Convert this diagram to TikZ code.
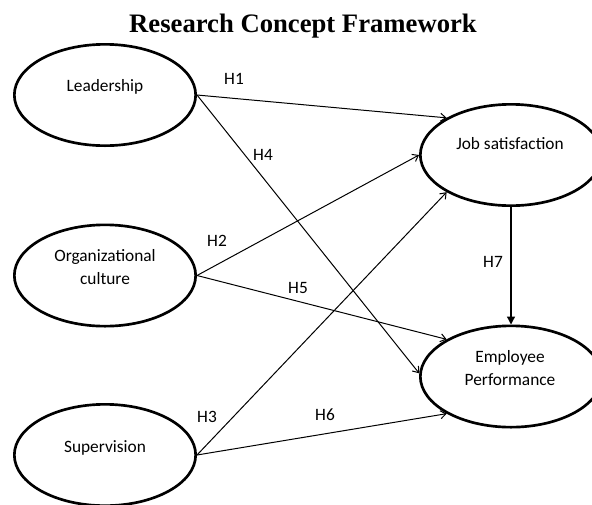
\documentclass[tikz,border=0pt]{standalone}
\usepackage{fontspec}
\setmainfont{Carlito}
\newfontfamily\titlefont{Liberation Serif}
\usetikzlibrary{shapes.geometric,arrows.meta}

\begin{document}
\begin{tikzpicture}[x=0.75pt,y=-0.75pt,line join=round,>={Straight Barb[length=4pt,width=6pt]}]
	\tikzset{oval/.style={ellipse,draw,line width=2pt,minimum width=136pt,minimum height=76pt,inner sep=0pt},
		txt/.style={font=\fontsize{13}{17}\selectfont,align=center,inner sep=0pt,anchor=base},
		link/.style={->,line width=0.75pt}}
	\useasboundingbox (0,0) rectangle (592,504);
	\node[anchor=base,inner sep=0pt,font=\titlefont\fontsize{20}{24}\selectfont\bfseries] (title) at (303,32) {Research Concept Framework};
	% constructs
	\node[oval] (lead) at (105,95) {};
	\node[oval] (orgc) at (105,275.5) {};
	\node[oval] (superv) at (105,455) {};
	\node[oval] (jobsat) at (511,155) {};
	\node[oval] (empperf) at (511,376.5) {};
	\node[txt] (leadtxt) at (105,91) {Leadership};
	\node[txt] (orgctxt) at (105,284) {Organizational\\culture};
	\node[txt] (supervtxt) at (105,452) {Supervision};
	\node[txt] (jobsattxt) at (510,149) {Job satisfaction};
	\node[txt] (empperftxt) at (510,385) {Employee\\Performance};
	% hypotheses
	\draw[link] (lead.east)--(jobsat.150);
	\draw[link] (lead.east)--(empperf.178);
	\draw[link] (orgc.east)--(jobsat.180);
	\draw[link] (orgc.east)--(empperf.150);
	\draw[link] (superv.east)--(jobsat.210);
	\draw[link] (superv.east)--(empperf.210);
	\draw[line width=1pt,-{Triangle[length=6pt,width=6pt]}] (jobsat.south)--(empperf.north);
	\node[txt] (h1) at (234,84) {H1};
	\node[txt] (h4) at (263,160) {H4};
	\node[txt] (h2) at (217,246) {H2};
	\node[txt] (h5) at (298,293) {H5};
	\node[txt] (h3) at (207,422.5) {H3};
	\node[txt] (h6) at (325,420.5) {H6};
	\node[txt] (h7) at (493,267) {H7};
\end{tikzpicture}
\end{document}
